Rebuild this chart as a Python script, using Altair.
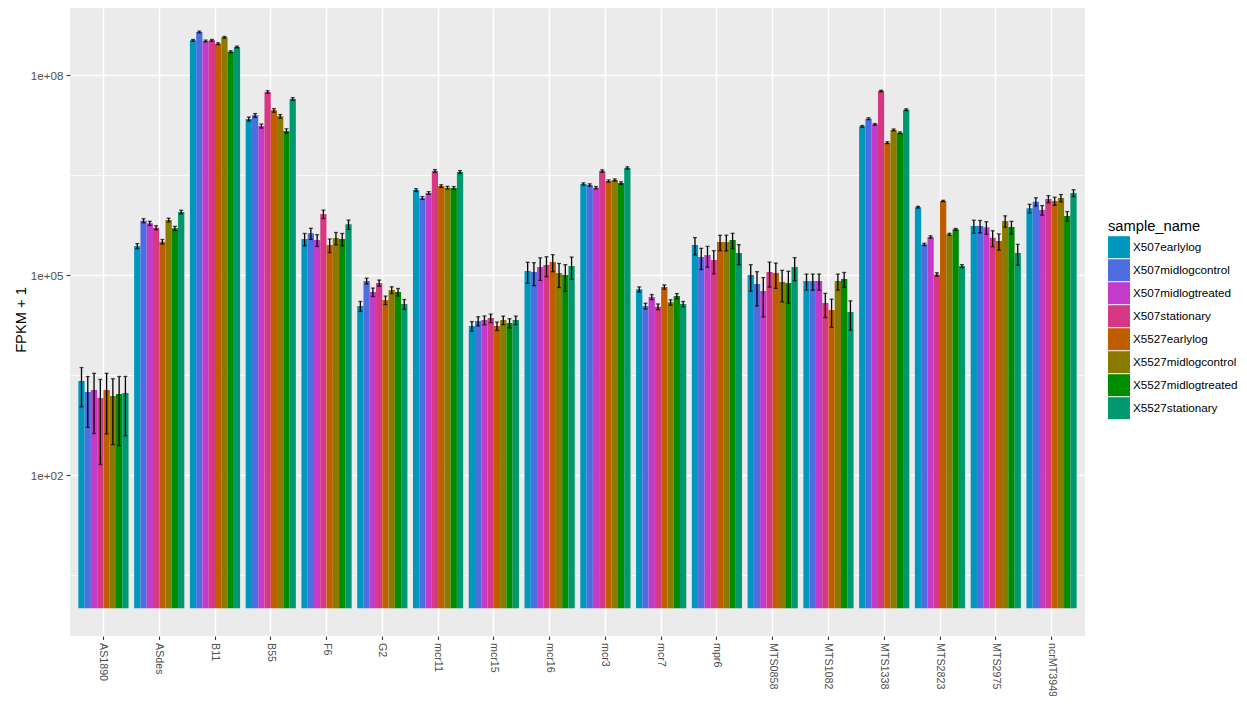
import altair as alt
import pandas as pd

categories = ["AS1890", "ASdes", "B11", "B55", "F6", "G2", "mcr11", "mcr15", "mcr16",
              "mcr3", "mcr7", "mpr6", "MTS0858", "MTS1082", "MTS1338", "MTS2823",
              "MTS2975", "ncrMT3949"]
samples = ["X507earlylog", "X507midlogcontrol", "X507midlogtreated", "X507stationary",
           "X5527earlylog", "X5527midlogcontrol", "X5527midlogtreated", "X5527stationary"]
colors = ["#0097BE", "#4D6EE0", "#C43BCA", "#D63883", "#BF5E00", "#8A7A00", "#008C00", "#00996F"]

# mean FPKM + 1 per sample, in category order
mean_X507earlylog = [2570, 2.72e5, 3.31e8, 2.19e7, 3.47e5, 3.43e4, 1.88e6, 1.72e4, 1.15e5,
                     2.32e6, 6.10e4, 2.82e5, 1.00e5, 8.13e4, 1.70e7, 1.04e6, 5.43e5, 1.00e6]
mean_X507midlogcontrol = [1758, 6.53e5, 4.42e8, 2.48e7, 4.22e5, 8.13e4, 1.43e6, 2.04e4, 1.11e5,
                          2.24e6, 3.43e4, 1.86e5, 7.33e4, 8.13e4, 2.21e7, 2.88e5, 5.43e5, 1.26e6]
mean_X507midlogtreated = [1884, 5.96e5, 3.24e8, 1.72e7, 3.35e5, 5.56e4, 1.70e6, 2.11e4, 1.32e5,
                          2.04e6, 4.68e4, 2.00e5, 5.75e4, 8.13e4, 1.82e7, 3.72e5, 5.19e5, 9.44e5]
mean_X507stationary = [1429, 5.13e5, 3.31e8, 5.56e7, 8.22e5, 7.59e4, 3.63e6, 2.26e4, 1.41e5,
                       3.63e6, 3.35e4, 1.68e5, 1.11e5, 3.80e4, 5.75e7, 1.02e5, 3.63e5, 1.38e6]
mean_X5527earlylog = [1884, 3.16e5, 2.95e8, 2.95e7, 2.82e5, 4.22e4, 2.16e6, 1.72e4, 1.57e5,
                      2.57e6, 6.61e4, 3.13e5, 1.07e5, 2.99e4, 9.66e6, 1.29e6, 3.24e5, 1.29e6]
mean_X5527midlogcontrol = [1531, 6.68e5, 3.67e8, 2.40e7, 3.59e5, 5.96e4, 2.04e6, 2.11e4, 1.07e5,
                           2.66e6, 3.89e4, 3.13e5, 7.85e4, 8.13e4, 1.50e7, 4.07e5, 6.46e5, 1.43e6]
mean_X5527midlogtreated = [1641, 5.01e5, 2.24e8, 1.45e7, 3.47e5, 5.56e4, 2.02e6, 1.91e4, 1.00e5,
                           2.40e6, 4.84e4, 3.35e5, 7.59e4, 8.71e4, 1.36e7, 4.84e5, 5.25e5, 7.67e5]
mean_X5527stationary = [1698, 8.81e5, 2.63e8, 4.37e7, 5.75e5, 3.67e4, 3.51e6, 2.11e4, 1.36e5,
                        4.03e6, 3.67e4, 2.14e5, 1.32e5, 2.79e4, 3.02e7, 1.36e5, 2.14e5, 1.70e6]

# standard deviations
sd_X507earlylog = [1515, 2.4e4, 1.0e7, 1.5e6, 7.3e4, 5.8e3, 9e4, 2.8e3, 4.0e4,
                   9e4, 5.3e3, 8.2e4, 4.3e4, 2.2e4, 5e5, 3e4, 1.2e5, 1.5e5]
sd_X507midlogcontrol = [1240, 4.5e4, 1.3e7, 1.6e6, 8.0e4, 8.1e3, 7e4, 3.2e3, 4.2e4,
                        9e4, 3.4e3, 6.5e4, 3.9e4, 2.2e4, 7e5, 1.2e4, 1.15e5, 1.8e5]
sd_X507midlogtreated = [1465, 4.2e4, 1.0e7, 1.2e6, 6.7e4, 8.1e3, 8e4, 3.2e3, 4.9e4,
                        8e4, 4.1e3, 6.9e4, 3.4e4, 2.2e4, 5e5, 1.5e4, 1.1e5, 1.55e5]
sd_X507stationary = [1285, 3.6e4, 1.0e7, 2.5e6, 1.19e5, 8.0e3, 1.8e5, 3.3e3, 4.7e4,
                     1.5e5, 3.3e3, 6.4e4, 4.5e4, 1.5e4, 1.5e6, 6e3, 9.8e4, 1.7e5]
sd_X5527earlylog = [1470, 2.5e4, 9e6, 1.8e6, 6.5e4, 6.1e3, 1.0e5, 2.5e3, 4.5e4,
                    1.0e5, 5.0e3, 8.1e4, 4.4e4, 1.35e4, 3e5, 3e4, 8.9e4, 1.8e5]
sd_X5527midlogcontrol = [1245, 4.3e4, 1.1e7, 1.5e6, 7.5e4, 6.9e3, 1.0e5, 3.1e3, 4.2e4,
                         1.0e5, 3.6e3, 8.3e4, 3.9e4, 2.2e4, 5e5, 1.5e4, 1.25e5, 1.8e5]
sd_X5527midlogtreated = [1365, 3.5e4, 7e6, 1.1e6, 7.3e4, 7.2e3, 1.0e5, 3.0e3, 4.3e4,
                         1.0e5, 4.2e3, 8.7e4, 3.8e4, 2.2e4, 4e5, 1.5e4, 1.13e5, 1.27e5]
sd_X5527stationary = [1310, 5.5e4, 8e6, 2.0e6, 9.2e4, 6.2e3, 1.7e5, 3.1e3, 5.0e4,
                      1.6e5, 3.4e3, 7.1e4, 5.0e4, 1.3e4, 9e5, 7e3, 7.4e4, 2.0e5]

means = [mean_X507earlylog, mean_X507midlogcontrol, mean_X507midlogtreated, mean_X507stationary,
         mean_X5527earlylog, mean_X5527midlogcontrol, mean_X5527midlogtreated, mean_X5527stationary]
sds = [sd_X507earlylog, sd_X507midlogcontrol, sd_X507midlogtreated, sd_X507stationary,
       sd_X5527earlylog, sd_X5527midlogcontrol, sd_X5527midlogtreated, sd_X5527stationary]

rows = []
for s, m_list, sd_list in zip(samples, means, sds):
    for g, m, sd in zip(categories, m_list, sd_list):
        rows.append({"gene": g, "sample_name": s, "value": m, "lo": m - sd, "hi": m + sd})
df = pd.DataFrame(rows)

y_domain = [10 ** -0.415, 10 ** 9.005]
y_ticks = [10 ** 0.5, 1e2, 10 ** 3.5, 1e5, 10 ** 6.5, 1e8]
minor_test = "abs(log(datum.value)/LN10 - round(log(datum.value)/LN10)) > 0.1"

FONT = "Liberation Sans"

x_enc = alt.X(
    "gene:N", sort=categories, title=None,
    scale=alt.Scale(domain=categories, paddingInner=0.1, paddingOuter=0.15),
    axis=alt.Axis(labelAngle=90, labelAlign="left", labelBaseline="middle", labelPadding=3,
                  bandPosition=0.5, grid=True, gridColor="white", gridWidth=1.5,
                  tickSize=3.5, tickColor="#333333", tickWidth=1.1, domain=False,
                  labelFont=FONT, labelFontSize=10.7, labelColor="#4D4D4D"),
)
xo_enc = alt.XOffset("sample_name:N", sort=samples,
                     scale=alt.Scale(domain=samples, paddingInner=0, paddingOuter=0))
y_scale = alt.Scale(type="log", domain=y_domain, nice=False)
y_axis = alt.Axis(
    values=y_ticks, title="FPKM + 1",
    labelExpr=f"{minor_test} ? '' : '1e+0' + round(log(datum.value)/LN10)",
    grid=True, gridColor="white",
    gridWidth={"condition": {"test": minor_test, "value": 0.8}, "value": 1.5},
    tickOpacity={"condition": {"test": minor_test, "value": 0}, "value": 1},
    tickSize=4, tickColor="#333333", tickWidth=1.1, domain=False,
    labelFont=FONT, labelFontSize=11.7, labelColor="#4D4D4D", labelPadding=3,
    titleFont=FONT, titleFontSize=14.7, titleFontWeight="normal", titleColor="black",
    titleX=-45, titleY=311.5, titleAlign="center", titleBaseline="alphabetic", titleAngle=270,
)

base = alt.Chart(df)

bars = base.mark_bar().encode(
    x=x_enc,
    xOffset=xo_enc,
    y=alt.Y("value:Q", scale=y_scale, axis=y_axis),
    y2=alt.datum(1),
    color=alt.Color(
        "sample_name:N", sort=samples,
        scale=alt.Scale(domain=samples, range=colors),
        legend=alt.Legend(
            title="sample_name", orient="none", legendX=1038, legendY=210.5,
            titleFont=FONT, titleFontSize=14.7, titleFontWeight="normal", titleColor="black",
            titlePadding=3, labelFont=FONT, labelFontSize=11.7, labelColor="black",
            symbolType="square", symbolSize=484, symbolStrokeWidth=0, symbolOpacity=1,
            rowPadding=1, labelOffset=3,
        ),
    ),
)

err = base.mark_rule(color="black", strokeWidth=1.3).encode(
    x=alt.X("gene:N", sort=categories),
    xOffset=alt.XOffset("sample_name:N", sort=samples),
    y=alt.Y("lo:Q"),
    y2="hi:Q",
)
cap_lo = base.mark_tick(color="black", thickness=1.3, size=4, orient="horizontal").encode(
    x=alt.X("gene:N", sort=categories),
    xOffset=alt.XOffset("sample_name:N", sort=samples),
    y=alt.Y("lo:Q"),
)
cap_hi = base.mark_tick(color="black", thickness=1.3, size=4, orient="horizontal").encode(
    x=alt.X("gene:N", sort=categories),
    xOffset=alt.XOffset("sample_name:N", sort=samples),
    y=alt.Y("hi:Q"),
)

chart = alt.layer(bars, err, cap_lo, cap_hi).properties(
    width=1015, height=628,
    autosize=alt.AutoSizeParams(type="none"),
    padding={"left": 62, "top": 0, "right": 154, "bottom": 60},
    background="white",
).configure_view(fill="#EBEBEB", stroke=None)

chart.save("out.html", embed_options={"renderer": "svg", "actions": False})
